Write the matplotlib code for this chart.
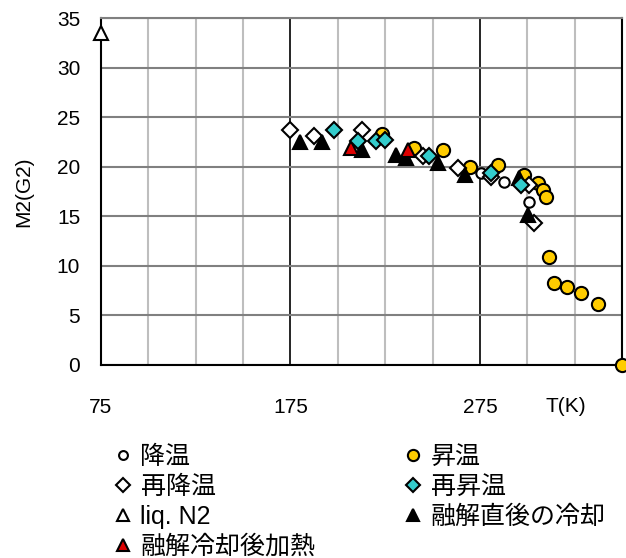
import matplotlib.pyplot as plt
from matplotlib.ticker import MultipleLocator

plt.rcParams['font.family'] = ['Liberation Sans', 'Noto Sans CJK JP']

# 降温 (cooling)
T_cool = [275.5, 287.7, 300.9]
M_cool = [19.4, 18.5, 16.4]

# 昇温 (heating)
T_heat = [223.5, 240.0, 255.4, 270.0, 284.5, 298.3, 305.7, 308.3, 310.0,
          311.5, 314.2, 321.0, 328.4, 337.4, 350.0]
M_heat = [23.3, 21.9, 21.7, 20.0, 20.2, 19.2, 18.4, 17.7, 16.9,
          10.9, 8.3, 7.9, 7.3, 6.2, 0.0]

# 再降温 (re-cooling)
T_recool = [175.0, 187.2, 212.6, 244.8, 263.4, 280.8, 300.9, 303.6]
M_recool = [23.7, 23.1, 23.7, 21.1, 19.9, 19.0, 18.2, 14.3]

# 再昇温 (re-heating)
T_reheat = [197.8, 210.4, 220.0, 225.0, 248.0, 280.8, 296.7]
M_reheat = [23.7, 22.6, 22.6, 22.7, 21.1, 19.4, 18.2]

# liq. N2
T_n2 = [75.0]
M_n2 = [33.5]

# 融解直後の冷却
T_melt_cool = [179.8, 191.4, 213.0, 230.6, 235.8, 252.8, 267.0, 295.6, 300.4]
M_melt_cool = [22.5, 22.5, 21.7, 21.2, 20.9, 20.4, 19.2, 18.9, 15.1]

# 融解冷却後加熱
T_melt_heat = [206.7, 237.0]
M_melt_heat = [21.9, 21.7]

fig = plt.figure(figsize=(6.26, 5.58), dpi=100)
ax = fig.add_axes([101/626, 1-365/558, 521/626, 347/558])

kw = dict(ls='none', mec='black', mew=1.5, clip_on=False)
l_heat, = ax.plot(T_heat, M_heat, 'o', mfc='#FFCC00', ms=9.5, label='昇温', zorder=3, **kw)
l_cool, = ax.plot(T_cool, M_cool, 'o', mfc='white', ms=7.5, label='降温', zorder=4, **kw)
l_recool, = ax.plot(T_recool, M_recool, 'D', mfc='white', ms=8.5, label='再降温', zorder=5, **kw)
l_mc, = ax.plot(T_melt_cool, M_melt_cool, '^', mfc='black', ms=10, label='融解直後の冷却', zorder=6, **kw)
l_mh, = ax.plot(T_melt_heat, M_melt_heat, '^', mfc='#DD0000', ms=10, label='融解冷却後加熱', zorder=7, **kw)
l_reheat, = ax.plot(T_reheat, M_reheat, 'D', mfc='#33CCCC', ms=8.5, label='再昇温', zorder=8, **kw)
l_n2, = ax.plot(T_n2, M_n2, '^', mfc='white', ms=10, label='liq. N2', zorder=9, **kw)

ax.set_xlim(75, 350)
ax.set_ylim(0, 35)
ax.set_xticks([75, 175, 275])
ax.xaxis.set_minor_locator(MultipleLocator(25))
ax.yaxis.set_major_locator(MultipleLocator(5))
ax.grid(which='minor', axis='x', color='#BEBEBE', lw=1.5)
ax.grid(which='major', axis='x', color='black', lw=1.2)
ax.grid(which='major', axis='y', color='#808080', lw=1.5)
ax.set_axisbelow(True)
ax.tick_params(which='both', length=0, labelsize=15)
ax.tick_params(axis='y', pad=15)
ax.tick_params(axis='x', pad=24)
for s in ['left', 'bottom', 'right']:
    ax.spines[s].set_linewidth(1.5)
ax.spines['top'].set_color('#808080')
ax.spines['top'].set_linewidth(1.5)

ax.set_ylabel('M2(G2)', fontsize=15)
ax.yaxis.set_label_coords(-0.13, 0.5)
fig.text(566/626, 1-407/558, 'T(K)', fontsize=15, ha='center', va='center')

handles = [l_cool, l_recool, l_n2, l_mh, l_heat, l_reheat, l_mc]
fig.legend(handles, [h.get_label() for h in handles], ncol=2,
           loc='upper left', bbox_to_anchor=(113/626, 1-445/558),
           frameon=False, fontsize=18, handlelength=0.8, handletextpad=0.3,
           columnspacing=3.5, labelspacing=0.24, borderpad=0, borderaxespad=0,
           markerscale=0.85)

plt.savefig('out.png', dpi=100)
